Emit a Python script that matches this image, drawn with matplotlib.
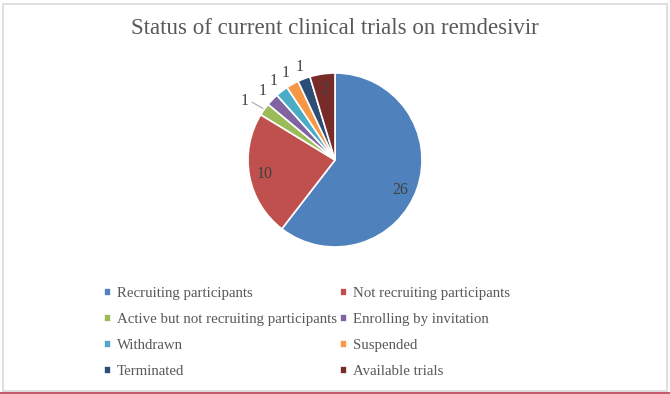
import numpy as np
import matplotlib.pyplot as plt
from matplotlib.patches import Rectangle
from matplotlib.lines import Line2D

statuses = ["Recruiting participants", "Not recruiting participants",
            "Active but not recruiting participants", "Enrolling by invitation",
            "Withdrawn", "Suspended", "Terminated", "Available trials"]
counts = [26, 10, 1, 1, 1, 1, 1, 2]
colors = ["#4f81bd", "#c0504d", "#9bbb59", "#8064a2",
          "#4bacc6", "#f79646", "#2c4d75", "#772c2a"]

plt.rcParams['font.family'] = ['Liberation Serif', 'DejaVu Serif']
W, H = 670, 394
fig = plt.figure(figsize=(W / 100, H / 100), dpi=100)

# frame round the chart
fig.patches.append(Rectangle((3 / W, 3 / H), 664 / W, 387 / H, transform=fig.transFigure,
                             fill=False, edgecolor="#d9d9d9", linewidth=1.2))
fig.lines.append(Line2D([0, 1], [1.5 / H, 1.5 / H], transform=fig.transFigure,
                        color="#c55a6e", linewidth=1.5))

fig.text(335 / W, 1 - 28 / H, "Status of current clinical trials on remdesivir",
         ha="center", va="center", fontsize=16.5, color="#595959")

# pie: centre (335,160) px, radius 87 px
lim = 1.5
size = 2 * 87 * lim
ax = fig.add_axes([(335 - size / 2) / W, (H - 160 - size / 2) / H, size / W, size / H])
wedges, _ = ax.pie(counts, colors=colors, startangle=90, counterclock=False,
                   wedgeprops=dict(edgecolor="white", linewidth=1.2))
ax.set_xlim(-lim, lim)
ax.set_ylim(-lim, lim)
ax.set_aspect("equal")
ax.axis("off")

shift = {0: -6, 1: 1}
for i, w in enumerate(wedges):
    mid = np.deg2rad((w.theta1 + w.theta2) / 2 + shift.get(i, 0))
    c, s = np.cos(mid), np.sin(mid)
    if counts[i] >= 2:
        ax.text(0.82 * c, 0.82 * s, str(counts[i]), ha="center", va="center",
                fontsize=11.5, color="#404040")
    elif i == 2:
        ax.plot([1.02 * c, 1.17 * c], [1.02 * s, 1.14 * s], color="#a6a6a6", lw=0.8)
        ax.text(1.28 * c, 1.17 * s, str(counts[i]), ha="center", va="center",
                fontsize=11.5, color="#404040")
    else:
        ax.text(1.15 * c, 1.15 * s, str(counts[i]), ha="center", va="center",
                fontsize=11.5, color="#404040")

order = [0, 2, 4, 6, 1, 3, 5, 7]
fig.legend([wedges[i] for i in order], [statuses[i] for i in order],
           ncol=2, loc="upper left", bbox_to_anchor=(104 / W, 1 - 287 / H),
           frameon=False, fontsize=10.7, labelcolor="#595959",
           handlelength=0.45, handleheight=0.45, handletextpad=0.42,
           columnspacing=0.2, labelspacing=0.88, borderpad=0, borderaxespad=0)

fig.savefig("out.png", dpi=100)
